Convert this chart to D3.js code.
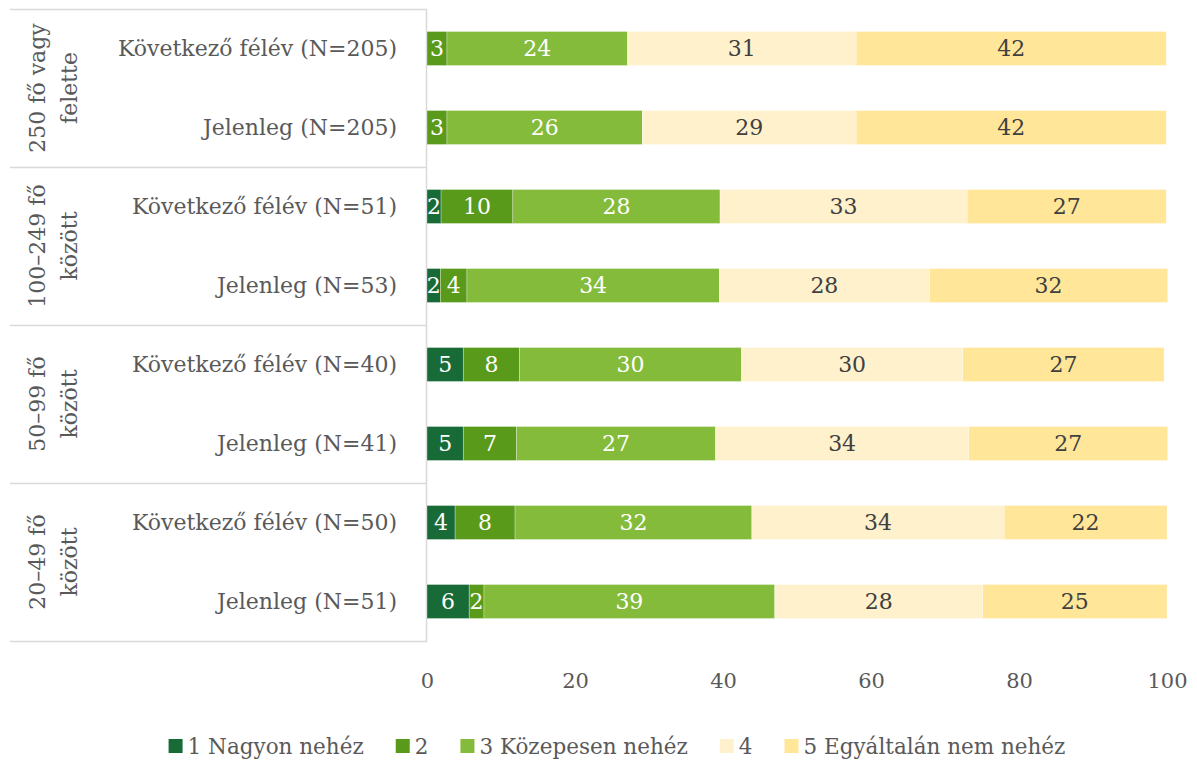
<!DOCTYPE html>
<html>
<head>
<meta charset="utf-8">
<script src="https://cdn.jsdelivr.net/npm/d3@7"></script>
<style>
body { margin: 0; background: #fff; }
text { font-family: "DejaVu Serif", serif; }
</style>
</head>
<body>
<div id="vis"></div>
<script>
// categories, top to bottom
var groups = [["250 fő vagy", "felette"], ["100–249 fő", "között"], ["50–99 fő", "között"], ["20–49 fő", "között"]];
var bars = ["Következő félév (N=205)", "Jelenleg (N=205)",
            "Következő félév (N=51)", "Jelenleg (N=53)",
            "Következő félév (N=40)", "Jelenleg (N=41)",
            "Következő félév (N=50)", "Jelenleg (N=51)"];
var series = ["1 Nagyon nehéz", "2", "3 Közepesen nehéz", "4", "5 Egyáltalán nem nehéz"];
// percentages per bar, one array per answer
var s1 = [0, 0, 1.9, 1.8, 4.9, 4.9, 3.8, 5.7];
var s2 = [2.7, 2.7, 9.7, 3.6, 7.6, 7.2, 8.1, 2.0];
var s3 = [24.4, 26.4, 28.0, 34.1, 30.0, 26.9, 32.0, 39.3];
var s4 = [30.9, 28.9, 33.4, 28.4, 29.9, 34.2, 34.1, 28.1];
var s5 = [41.9, 41.9, 26.9, 32.2, 27.2, 26.9, 22.0, 24.9];
var xTicks = [0, 20, 40, 60, 80, 100];

var colors = ["#186b37", "#5a9a1a", "#84bb3a", "#fff1cc", "#ffe699"];
var labelColors = ["#fff", "#fff", "#fff", "#404040", "#404040"];

var w = 1197, h = 761;
var pLeft = 427, pRight = 1167, pTop = 9, pBottom = 641;

var svg = d3.select("#vis").append("svg").attr("width", w).attr("height", h);

var x = d3.scaleLinear().domain([0, 100]).range([pLeft, pRight]);
var y = d3.scaleBand().domain(d3.range(bars.length)).range([pTop, pBottom]).paddingInner(0.57).paddingOuter(0.285);
var yGroup = d3.scaleBand().domain(d3.range(groups.length)).range([pTop, pBottom]);

var table = bars.map(function(b, i) {
	return { idx: i, v0: s1[i], v1: s2[i], v2: s3[i], v3: s4[i], v4: s5[i] };
});
var stack = d3.stack().keys(["v0", "v1", "v2", "v3", "v4"])(table);

// left table lines
svg.selectAll("line.grp")
	.data(d3.range(groups.length + 1))
	.enter().append("line")
	.attr("x1", 10).attr("x2", pLeft)
	.attr("y1", function(d) { return d * yGroup.step() + pTop + 0.5; })
	.attr("y2", function(d) { return d * yGroup.step() + pTop + 0.5; })
	.attr("stroke", "#d9d9d9").attr("stroke-width", 1.5);
svg.append("line")
	.attr("x1", pLeft - 0.5).attr("x2", pLeft - 0.5).attr("y1", pTop).attr("y2", pBottom + 1)
	.attr("stroke", "#d9d9d9").attr("stroke-width", 1.5);

// bars
var layer = svg.selectAll("g.layer").data(stack).enter().append("g")
	.attr("fill", function(d, i) { return colors[i]; });
layer.selectAll("rect").data(function(d) { return d; }).enter().append("rect")
	.attr("x", function(d) { return x(d[0]); })
	.attr("width", function(d) { return x(d[1]) - x(d[0]); })
	.attr("y", function(d) { return y(d.data.idx); })
	.attr("height", y.bandwidth())
	.attr("stroke", "#fff").attr("stroke-width", 0.6).attr("stroke-opacity", 0.5);

// value labels
stack.forEach(function(s, k) {
	svg.append("g").selectAll("text").data(s.filter(function(d) { return d[1] - d[0] > 0; })).enter()
		.append("text")
		.attr("x", function(d) { return (x(d[0]) + x(d[1])) / 2; })
		.attr("y", function(d) { return y(d.data.idx) + y.bandwidth() / 2; })
		.attr("dy", "0.36em")
		.attr("text-anchor", "middle")
		.attr("font-size", 22)
		.attr("fill", labelColors[k])
		.text(function(d) { return Math.round(d[1] - d[0]); });
});

// bar names
svg.selectAll("text.bar").data(bars).enter().append("text")
	.attr("x", 397)
	.attr("y", function(d, i) { return y(i) + y.bandwidth() / 2; })
	.attr("dy", "0.36em")
	.attr("text-anchor", "end")
	.attr("font-size", 22)
	.attr("fill", "#595959")
	.text(function(d) { return d; });

// group names, rotated
groups.forEach(function(g, i) {
	var cy = yGroup(i) + yGroup.bandwidth() / 2;
	g.forEach(function(line, j) {
		svg.append("text")
			.attr("transform", "translate(" + (45 + j * 32) + "," + cy + ") rotate(-90)")
			.attr("text-anchor", "middle")
			.attr("font-size", 22)
			.attr("fill", "#595959")
			.text(line);
	});
});

// x axis
var xAxis = svg.append("g").attr("transform", "translate(0," + 680 + ")")
	.call(d3.axisBottom(x).tickValues(xTicks).tickSize(0).tickPadding(0));
xAxis.select(".domain").remove();
xAxis.selectAll("text").attr("font-size", 21).attr("fill", "#595959").attr("dy", "0.36em")
	.attr("font-family", "DejaVu Serif, serif");

// legend
var legend = svg.append("g");
var item = legend.selectAll("g").data(series).enter().append("g");
item.append("rect").attr("width", 14).attr("height", 14).attr("y", -7)
	.attr("fill", function(d, i) { return colors[i]; });
item.append("text").attr("x", 19).attr("dy", "0.36em")
	.attr("font-size", 21.5).attr("fill", "#595959")
	.text(function(d) { return d; });
var pos = 0;
item.each(function() {
	var wd = this.getBBox().width;
	d3.select(this).attr("transform", "translate(" + pos + ",0)");
	pos += wd + 32;
});
legend.attr("transform", "translate(" + (617 - (pos - 32) / 2) + ",746)");
</script>
</body>
</html>
